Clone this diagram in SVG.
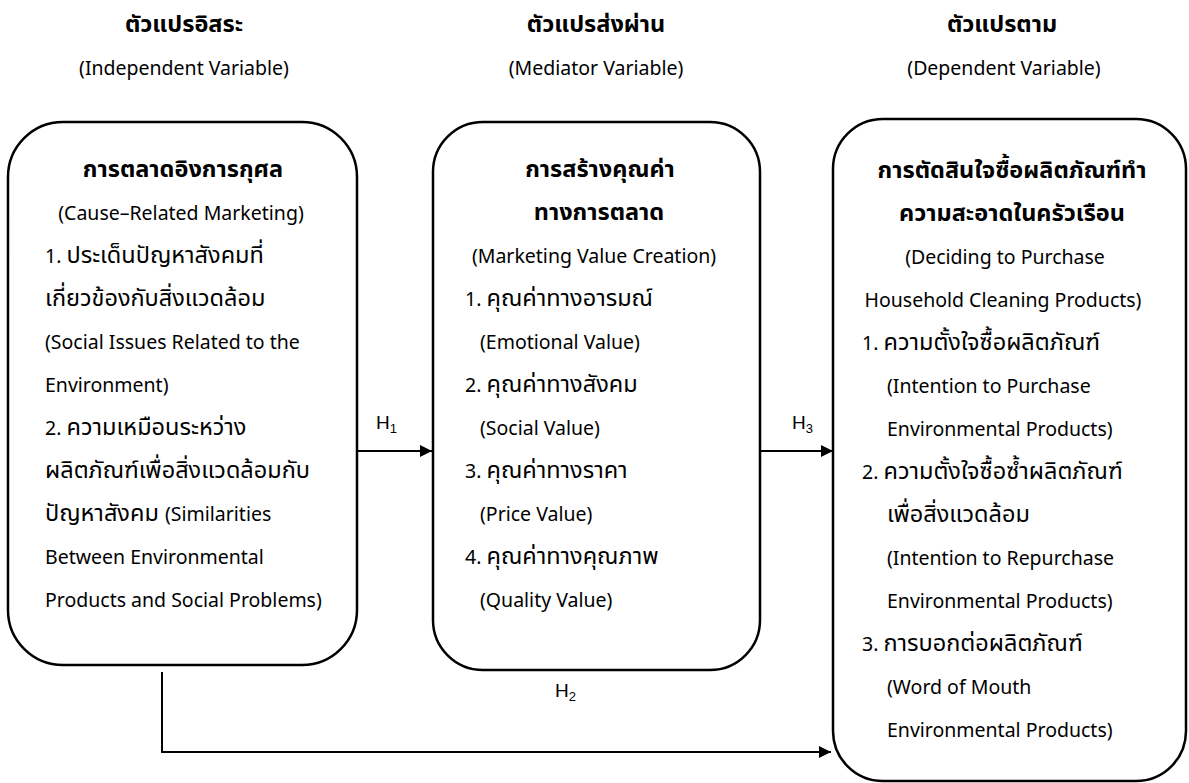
<svg xmlns="http://www.w3.org/2000/svg" width="1189" height="783" viewBox="0 0 1189 783">
<style>
text{font-family:"Noto Sans Thai","Noto Sans","DejaVu Sans",sans-serif;font-size:19.5px;fill:#000}
.t{font-size:23.5px}
.l{font-size:19.5px}
.b{font-weight:bold}
.c{text-anchor:middle}
.box{fill:#fff;stroke:#000;stroke-width:2.5}
.con{fill:none;stroke:#000;stroke-width:2}
.h{font-family:"Liberation Sans",Arial,sans-serif;font-size:19px}
.s{font-size:13px}
</style>
<defs>
<marker id="arr" markerWidth="12" markerHeight="12" refX="12" refY="6" orient="auto" markerUnits="userSpaceOnUse">
<path d="M0,0 L12,6 L0,12 Z" fill="#000"/>
</marker>
</defs>
<rect width="1189" height="783" fill="#fff"/>
<g id="headers">
<text class="t b c" x="184" y="32">ตัวแปรอิสระ</text>
<text class="c" x="184" y="75">(Independent Variable)</text>
<text class="t b c" x="596" y="32">ตัวแปรส่งผ่าน</text>
<text class="c" x="596" y="75">(Mediator Variable)</text>
<text class="t b c" x="1002" y="32">ตัวแปรตาม</text>
<text class="c" x="1004" y="75">(Dependent Variable)</text>
</g>
<g id="node-independent">
<rect class="box" x="8" y="122" width="349" height="543" rx="55" ry="55"/>
<text class="t b c" x="183" y="177">การตลาดอิงการกุศล</text>
<text class="c" x="181" y="220">(Cause–Related Marketing)</text>
<text class="t" x="45" y="263"><tspan class="l">1. </tspan>ประเด็นปัญหาสังคมที่</text>
<text class="t" x="45" y="306">เกี่ยวข้องกับสิ่งแวดล้อม</text>
<text x="45" y="349">(Social Issues Related to the</text>
<text x="45" y="392">Environment)</text>
<text class="t" x="45" y="435"><tspan class="l">2. </tspan>ความเหมือนระหว่าง</text>
<text class="t" x="45" y="478">ผลิตภัณฑ์เพื่อสิ่งแวดล้อมกับ</text>
<text class="t" x="45" y="521">ปัญหาสังคม <tspan class="l">(Similarities</tspan></text>
<text x="45" y="564">Between Environmental</text>
<text x="45" y="607">Products and Social Problems)</text>
</g>
<g id="node-mediator">
<rect class="box" x="433" y="122" width="327" height="548" rx="50" ry="50"/>
<text class="t b c" x="600" y="177">การสร้างคุณค่า</text>
<text class="t b c" x="599" y="220">ทางการตลาด</text>
<text class="c" x="594" y="263">(Marketing Value Creation)</text>
<text class="t" x="465" y="306"><tspan class="l">1. </tspan>คุณค่าทางอารมณ์</text>
<text x="480" y="349">(Emotional Value)</text>
<text class="t" x="465" y="392"><tspan class="l">2. </tspan>คุณค่าทางสังคม</text>
<text x="480" y="435">(Social Value)</text>
<text class="t" x="465" y="478"><tspan class="l">3. </tspan>คุณค่าทางราคา</text>
<text x="480" y="521">(Price Value)</text>
<text class="t" x="465" y="564"><tspan class="l">4. </tspan>คุณค่าทางคุณภาพ</text>
<text x="480" y="607">(Quality Value)</text>
</g>
<g id="node-dependent">
<rect class="box" x="833" y="119" width="353" height="662" rx="50" ry="50"/>
<text class="t b c" x="1012" y="178">การตัดสินใจซื้อผลิตภัณฑ์ทำ</text>
<text class="t b c" x="1012" y="221">ความสะอาดในครัวเรือน</text>
<text class="c" x="1005" y="264">(Deciding to Purchase</text>
<text class="c" x="1003" y="307">Household Cleaning Products)</text>
<text class="t" x="862" y="350"><tspan class="l">1. </tspan>ความตั้งใจซื้อผลิตภัณฑ์</text>
<text x="887" y="393">(Intention to Purchase</text>
<text x="887" y="436">Environmental Products)</text>
<text class="t" x="862" y="479"><tspan class="l">2. </tspan>ความตั้งใจซื้อซ้ำผลิตภัณฑ์</text>
<text class="t" x="887" y="522">เพื่อสิ่งแวดล้อม</text>
<text x="887" y="565">(Intention to Repurchase</text>
<text x="887" y="608">Environmental Products)</text>
<text class="t" x="862" y="651"><tspan class="l">3. </tspan>การบอกต่อผลิตภัณฑ์</text>
<text x="887" y="694">(Word of Mouth</text>
<text x="887" y="737">Environmental Products)</text>
</g>
<g id="connectors">
<path class="con" d="M357,451 H432" marker-end="url(#arr)"/>
<path class="con" d="M760,451 H833" marker-end="url(#arr)"/>
<path class="con" d="M162,672 V752 H831" marker-end="url(#arr)"/>
<text class="h" x="376" y="429">H<tspan class="s" dy="4">1</tspan></text>
<text class="h" x="792" y="429">H<tspan class="s" dy="4">3</tspan></text>
<text class="h" x="555" y="697">H<tspan class="s" dy="4">2</tspan></text>
</g>
</svg>
